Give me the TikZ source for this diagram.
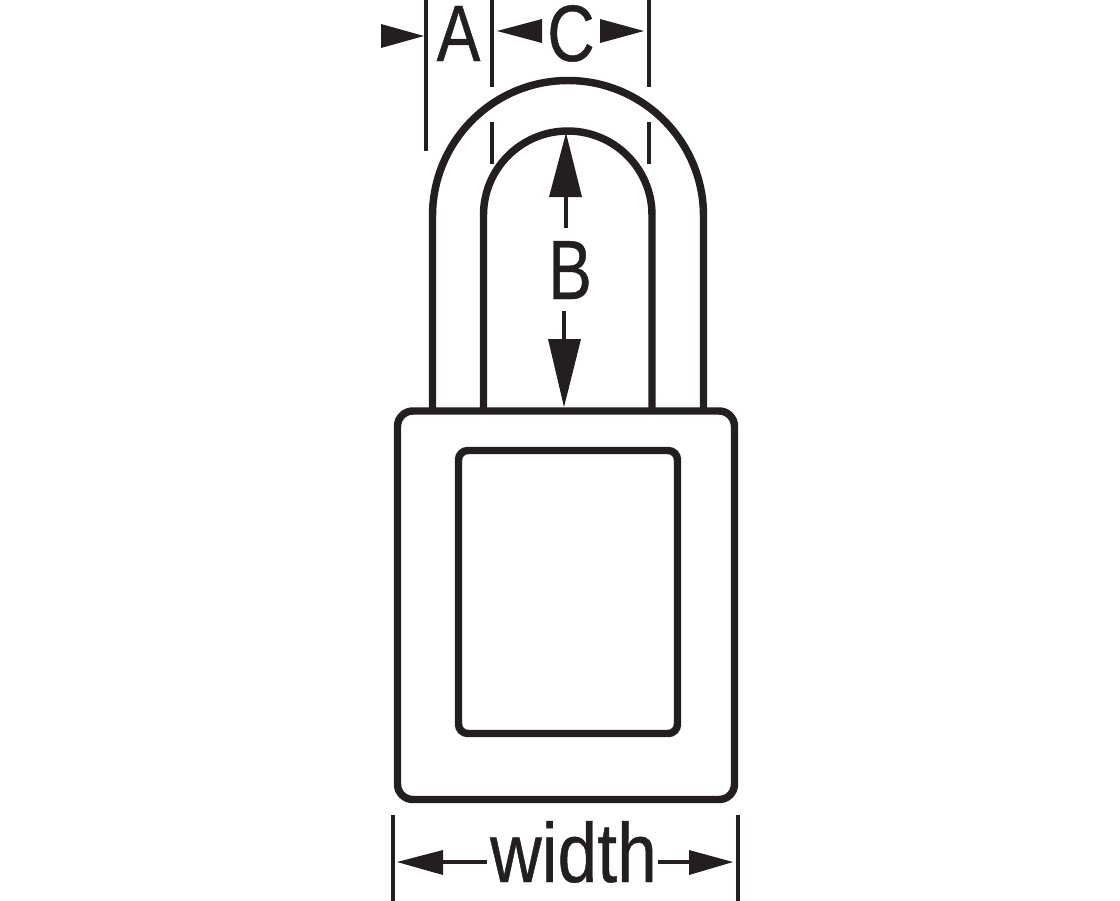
\documentclass[tikz,border=0pt]{standalone}
\usepackage{fontspec}
\setmainfont[FakeStretch=0.78,FakeBold=0.5]{Liberation Sans}
\newfontfamily\capsfont[FakeStretch=0.82,FakeBold=0.5]{Liberation Sans}
\newfontfamily\widefont[FakeStretch=0.85,FakeBold=0.5]{Liberation Sans}
\definecolor{ink}{HTML}{231F20}
\tikzset{
  outline/.style={draw=ink,line width=5.6pt},
  dimline/.style={draw=ink,line width=2.8pt},
  stem/.style={draw=ink,line width=2.8pt},
  head/.style={fill=ink,draw=none},
  dimtext/.style={text=ink,anchor=base,inner sep=0pt,font=\fontsize{63pt}{63pt}\selectfont},
  captext/.style={text=ink,anchor=base,inner sep=0pt,font=\fontsize{60pt}{60pt}\selectfont\capsfont},
  widetext/.style={text=ink,anchor=base,inner sep=0pt,font=\fontsize{63pt}{63pt}\selectfont\widefont}
}
\begin{document}
\begin{tikzpicture}[x=0.75pt,y=-0.75pt]
\useasboundingbox (0,0) rectangle (1120,900);
% shackle
\draw[outline] (432.5,409) -- (432.5,216) arc[start angle=180,end angle=360,x radius=135.5,y radius=135.5] -- (703.5,409);
\draw[outline] (483.5,409) -- (483.5,215) arc[start angle=180,end angle=360,x radius=84.25,y radius=84] -- (652,409);
% body
\draw[outline,rounded corners=11.5pt] (397.5,411) rectangle (734.5,799.5);
\draw[outline,rounded corners=7pt] (458.5,450.5) rectangle (677.5,733.5);
% extension lines
\draw[dimline] (426,-2) -- (426,151);
\draw[dimline] (492,-2) -- (492,87);
\draw[dimline] (492,122) -- (492,164);
\draw[dimline] (648.7,-2) -- (648.7,87);
\draw[dimline] (648.7,122) -- (648.7,164);
\draw[dimline] (393,815) -- (393,902);
\draw[dimline] (738,815) -- (738,902);
% A and C arrowheads
\fill[head] (424,36) -- (381,24) -- (381,48) -- cycle;
\fill[head] (497,31) -- (542,19) -- (542,43) -- cycle;
\fill[head] (644,31) -- (600,19) -- (600,43) -- cycle;
% B arrows
\fill[head] (566,133) -- (549,197) -- (582,197) -- cycle;
\fill[head] (564,407) -- (548,339) -- (581,339) -- cycle;
\coordinate (bu1) at (566,196); \coordinate (bu2) at (566,228);
\coordinate (bd1) at (564,311); \coordinate (bd2) at (564,340);
\draw[stem] (bu1) -- (bu2);
\draw[stem] (bd1) -- (bd2);
% width arrows
\fill[head] (397,862) -- (443,850) -- (443,875) -- cycle;
\fill[head] (733,862) -- (689,850) -- (689,875) -- cycle;
\coordinate (wl1) at (442,862); \coordinate (wl2) at (487,862);
\coordinate (wr1) at (658,862); \coordinate (wr2) at (690,862);
\draw[stem] (wl1) -- (wl2);
\draw[stem] (wr1) -- (wr2);
% labels
\node[captext] (lA) at (458.5,61) {A};
\node[captext] (lC) at (571,61) {C};
\node[dimtext] (lB) at (570,299) {B};
\node[widetext] (lW) at (573.5,882) {width};
\end{tikzpicture}
\end{document}
